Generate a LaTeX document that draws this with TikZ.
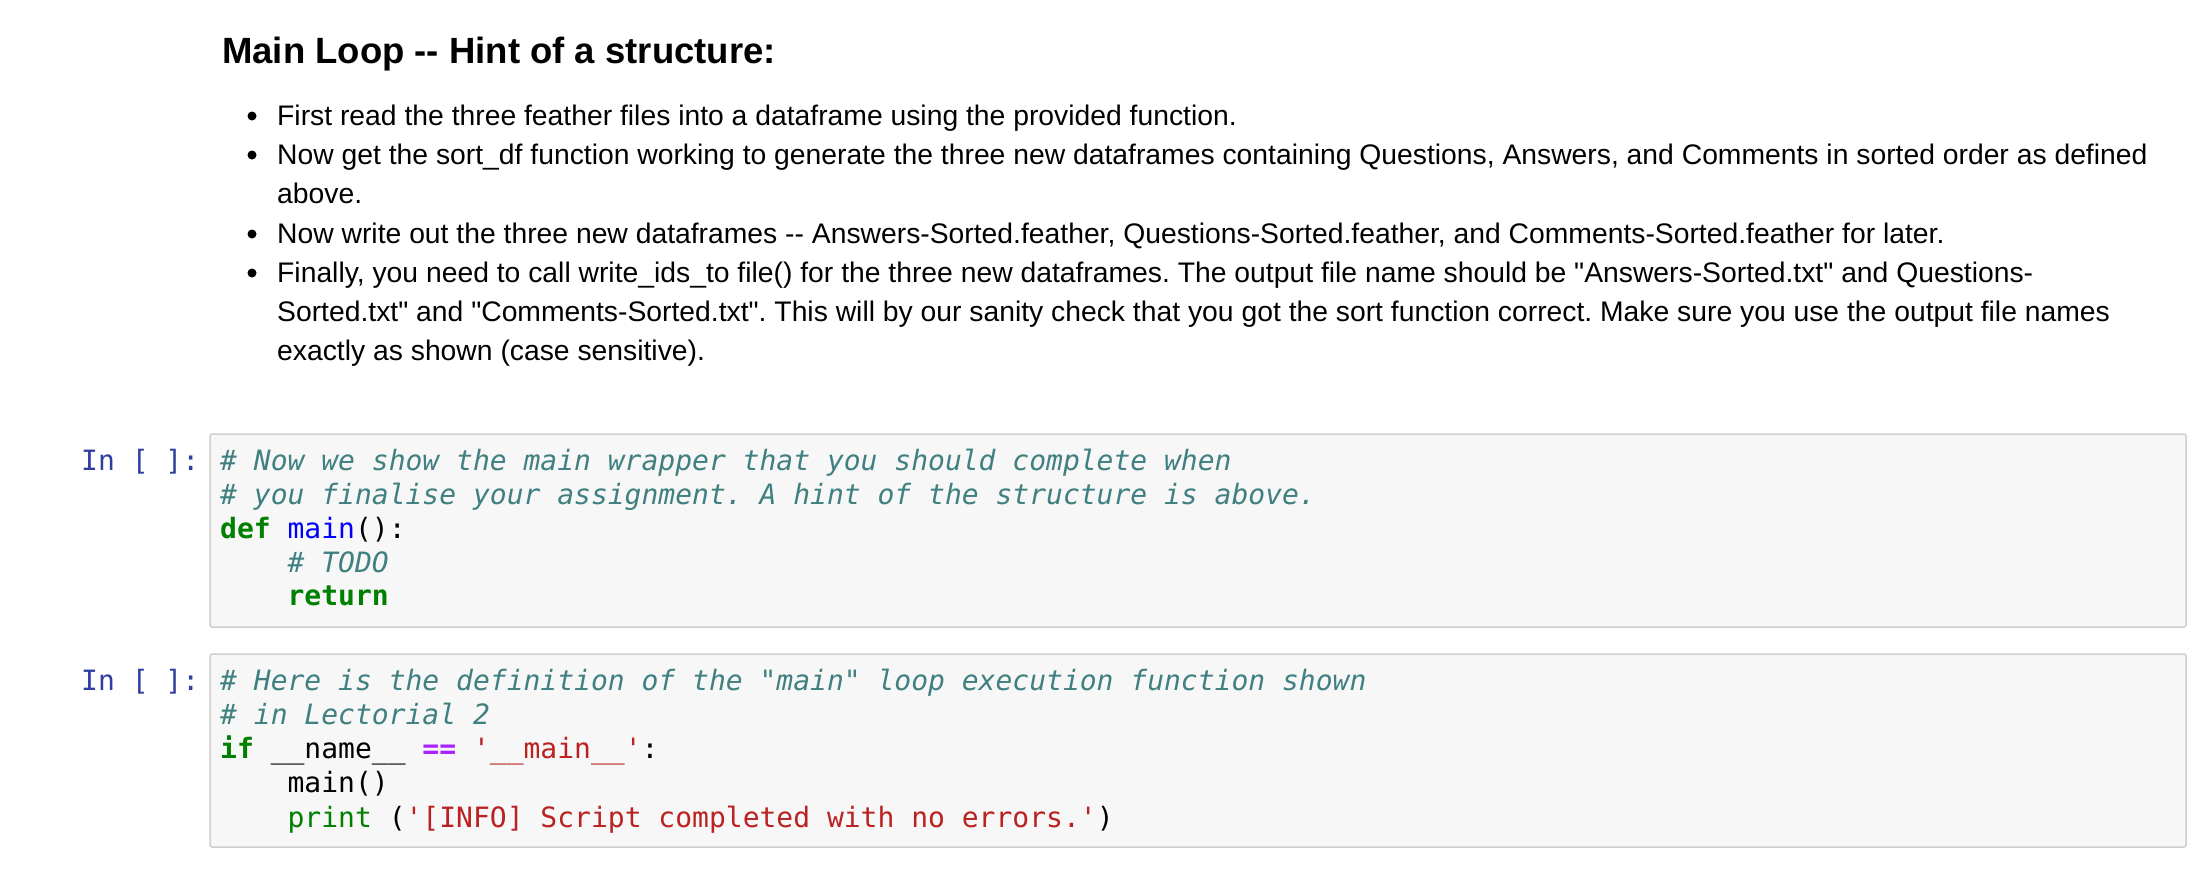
\documentclass[tikz,border=0pt]{standalone}
\usepackage{fontspec}
\newfontfamily\bodyf{Liberation Sans}
\newfontfamily\codef{DejaVu Sans Mono}
\definecolor{cmt}{HTML}{408080}
\definecolor{kw}{HTML}{008000}
\definecolor{fn}{HTML}{0000FF}
\definecolor{op}{HTML}{AA22FF}
\definecolor{str}{HTML}{BA2121}
\definecolor{prm}{HTML}{303F9F}
\definecolor{cellbg}{HTML}{F7F7F7}
\definecolor{cellbd}{HTML}{CFCFCF}
\frenchspacing
\begin{document}
\begin{tikzpicture}[x=1pt,y=-1pt,
  title/.style={anchor=base west,inner sep=0,font=\bodyf\fontsize{36.5}{40}\selectfont\bfseries},
  body/.style={anchor=base west,inner sep=0,font=\bodyf\fontsize{28.3}{32}\selectfont},
  code/.style={anchor=base west,inner sep=0,font=\codef\fontsize{28}{32}\selectfont},
  prompt/.style={code,text=prm},
  cell/.style={draw=cellbd,fill=cellbg,line width=1.5pt,rounded corners=2pt},
  dot/.style={circle,fill=black,inner sep=0,minimum size=9pt}]
\useasboundingbox (0,0) rectangle (2206,878);
\node[title] (t) at (222,63) {Main Loop -- Hint of a structure:};
\foreach \y/\n in {125/b1,164/b2,243/b3,282/b4}{\node[dot] (\n) at (252,\y-9) {};}
\node[body] (l1) at (277,125) {First read the three feather files into a dataframe using the provided function.};
\node[body] (l2) at (277,164) {Now get the sort\_df function working to generate the three new dataframes containing Questions, Answers, and Comments in sorted order as defined};
\node[body] (l3) at (277,203) {above.};
\node[body] (l4) at (277,243) {Now write out the three new dataframes -- Answers-Sorted.feather, Questions-Sorted.feather, and Comments-Sorted.feather for later.};
\node[body] (l5) at (277,282) {Finally, you need to call write\_ids\_to file() for the three new dataframes. The output file name should be "Answers-Sorted.txt" and Questions-};
\node[body] (l6) at (277,321) {Sorted.txt" and "Comments-Sorted.txt". This will by our sanity check that you got the sort function correct. Make sure you use the output file names};
\node[body] (l7) at (277,360) {exactly as shown (case sensitive).};
% cell 1
\draw[cell] (210,434) rectangle (2186,627);
\node[prompt] (p1) at (81,470) {In [ ]:};
\node[code,text=cmt] (c11) at (220,470) {\itshape \# Now we show the main wrapper that you should complete when};
\node[code,text=cmt] (c12) at (220,504) {\itshape \# you finalise your assignment. A hint of the structure is above.};
\node[code] (c13) at (220,538) {\textcolor{kw}{\bfseries def} \textcolor{fn}{main}():};
\node[code,text=cmt] (c14) at (220,572) {\itshape\ \ \ \ \# TODO};
\node[code,text=kw] (c15) at (220,605) {\bfseries\ \ \ \ return};
% cell 2
\draw[cell] (210,654) rectangle (2186,847);
\node[prompt] (p2) at (81,690) {In [ ]:};
\node[code,text=cmt] (c21) at (220,690) {\itshape \# Here is the definition of the "main" loop execution function shown};
\node[code,text=cmt] (c22) at (220,724) {\itshape \# in Lectorial 2};
\node[code] (c23) at (220,758) {\textcolor{kw}{\bfseries if} \_\_name\_\_ \textcolor{op}{\bfseries ==} \textcolor{str}{'\_\_main\_\_'}:};
\node[code] (c24) at (220,792) {\ \ \ \ main()};
\node[code] (c25) at (220,827) {\ \ \ \ \textcolor{kw}{print} (\textcolor{str}{'[INFO] Script completed with no errors.'})};
\end{tikzpicture}
\end{document}
